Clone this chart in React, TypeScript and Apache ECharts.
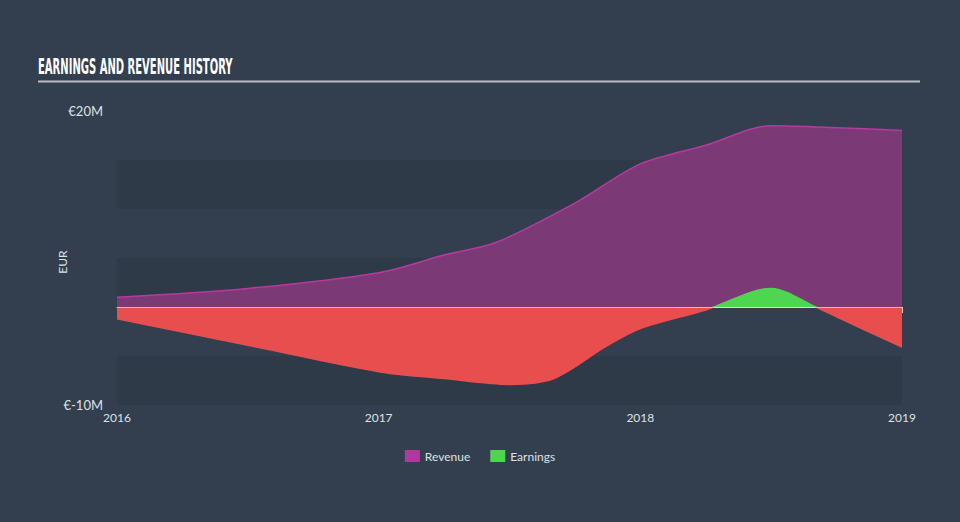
import React, { useEffect, useRef } from "react";
import * as echarts from "echarts";

// x values are fractional years (2016.5 = mid 2016)
const revenueX = [2016.0, 2016.5, 2017.0, 2017.25, 2017.45, 2017.75, 2018.0, 2018.25, 2018.5, 2018.75, 2019.0];
const revenueValues = [1.0, 1.9, 3.5, 5.3, 6.6, 10.6, 14.6, 16.5, 18.5, 18.3, 18.0];

const earningsX = [2016.0, 2016.5, 2017.0, 2017.25, 2017.5, 2017.67, 2017.87, 2018.0, 2018.25, 2018.5, 2018.67, 2018.75, 2019.0];
const earningsValues = [-1.2, -3.9, -6.6, -7.3, -7.9, -7.3, -4.0, -2.2, -0.3, 1.9, 0.0, -1.0, -4.1];

const yTickLabels: Record<number, string> = { 20: "€20M", [-10]: "€-10M" };
const xTickLabels = ["2016", "2017", "2018", "2019"];

export default function App() {
  const ref = useRef<HTMLDivElement>(null);
  useEffect(() => {
    if (!ref.current) return;
    const chart = echarts.init(ref.current, undefined, { renderer: "svg" });
    const font = "Lato, 'Open Sans', sans-serif";
    chart.setOption({
      animation: false,
      backgroundColor: "#333f4e",
      grid: { left: 117, right: 58, top: 111, bottom: 117 },
      graphic: [
        {
          type: "text",
          left: 38,
          top: 56,
          scaleX: 0.53,
          style: {
            text: "EARNINGS AND REVENUE HISTORY",
            fill: "#ffffff",
            font: "bold 21px 'DejaVu Sans Condensed', 'DejaVu Sans', sans-serif",
          },
        },
        {
          type: "line",
          shape: { x1: 38, y1: 81.5, x2: 920, y2: 81.5 },
          style: { stroke: "#b8bec6", lineWidth: 2 },
        },
        {
          type: "text",
          x: 62,
          y: 262,
          rotation: Math.PI / 2,
          style: {
            text: "EUR",
            fill: "#dde1e6",
            font: `12px ${font}`,
            align: "center",
            verticalAlign: "middle",
          },
        },
      ],
      legend: {
        bottom: 55,
        left: "center",
        itemWidth: 15,
        itemHeight: 12,
        itemGap: 20,
        textStyle: { color: "#dde1e6", fontSize: 12, fontFamily: font },
        data: [
          { name: "Revenue", icon: "rect", itemStyle: { color: "#b0389e" } },
          { name: "Earnings", icon: "rect", itemStyle: { color: "#4fd650" } },
        ],
      },
      xAxis: {
        type: "value",
        min: 2016,
        max: 2019,
        interval: 1,
        axisLine: { show: true, lineStyle: { color: "#c8cdd3", width: 1 } },
        axisTick: { show: true, length: 6, lineStyle: { color: "#c8cdd3" } },
        splitLine: { show: false },
        axisLabel: {
          color: "#dde1e6",
          fontSize: 12,
          fontFamily: font,
          margin: 6,
          formatter: (v: number) => xTickLabels[Math.round(v) - 2016] ?? "",
        },
      },
      yAxis: {
        type: "value",
        min: -10,
        max: 20,
        interval: 5,
        axisLine: { show: false },
        axisTick: { show: false },
        splitLine: { show: false },
        splitArea: { show: true, areaStyle: { color: ["#2e3a48", "rgba(0,0,0,0)"] } },
        axisLabel: {
          color: "#dde1e6",
          fontSize: 13,
          fontFamily: font,
          margin: 14,
          formatter: (v: number) => yTickLabels[v] ?? "",
        },
      },
      visualMap: {
        show: false,
        type: "piecewise",
        seriesIndex: 1,
        dimension: 1,
        pieces: [
          { min: -100, max: 0, color: "#e94e4f" },
          { min: 0, max: 100, color: "#4fd650" },
        ],
      },
      series: [
        {
          name: "Revenue",
          type: "line",
          smooth: 0.3,
          showSymbol: false,
          data: revenueX.map((x, i) => [x, revenueValues[i]]),
          lineStyle: { color: "#b8399f", width: 1.5 },
          itemStyle: { color: "#b0389e" },
          areaStyle: { color: "#7b3a75", opacity: 1 },
          z: 2,
        },
        {
          name: "Earnings",
          type: "line",
          smooth: 0.3,
          showSymbol: false,
          data: earningsX.map((x, i) => [x, earningsValues[i]]),
          lineStyle: { width: 1.5 },
          areaStyle: { opacity: 1 },
          z: 3,
          markLine: {
            silent: true,
            symbol: ["none", "none"],
            label: { show: false },
            lineStyle: { color: "rgba(255,255,255,0.55)", width: 1, type: "solid" },
            data: [{ yAxis: 0 }],
          },
        },
      ],
    });
    return () => chart.dispose();
  }, []);
  return (
    <div
      ref={ref}
      style={{ position: "fixed", left: 0, top: 0, width: 960, height: 522 }}
    />
  );
}
